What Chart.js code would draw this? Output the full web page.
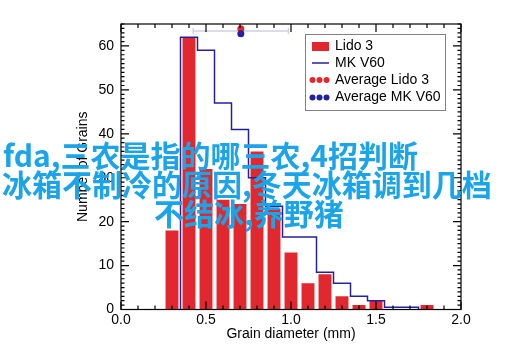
<!DOCTYPE html>
<html><head><meta charset="utf-8">
<script src="https://cdn.jsdelivr.net/npm/chart.js@4.4.1/dist/chart.umd.min.js"></script>
<style>
html,body{margin:0;padding:0;background:#fff;}
#wrap{position:relative;width:515px;height:359px;overflow:hidden;background:#fff;}
#c{position:absolute;left:0;top:0;}
.ov{position:absolute;white-space:nowrap;font-family:"Noto Sans CJK SC","Noto Sans",sans-serif;font-size:30px;line-height:30px;color:rgb(28,164,232);font-weight:bold;}
</style></head><body>
<div id="wrap">
<canvas id="c" width="515" height="359"></canvas>
<div class="ov" style="left:3px;top:139px;">fda,三农是指的哪三农,4招判断</div>
<div class="ov" style="left:2px;top:168px;">冰箱不制冷的原因,冬天冰箱调到几档</div>
<div class="ov" style="left:154px;top:197px;">不结冰,养野猪</div>
</div>
<script>
// ---- data ----
const binCenters = [0.3,0.4,0.5,0.6,0.7,0.8,0.9,1.0,1.1,1.2,1.3,1.4,1.5,1.8];
const lidoCounts = [18,62,32,25,24,36,23,13,6,8,3,1,2,1];
const mkEdges = [0.35,0.45,0.55,0.65,0.75,0.85,0.95,1.05,1.15,1.25,1.35,1.45,1.55,1.65,1.75];
const mkCounts = [62,59,47,41,30,23.5,16.5,16.5,8.5,6,3,2,0.5,0.5];
const avgLido = [0.705, 63.9];
const avgMK = [0.705, 62.8];
const avgRange = [0.425, 0.985];
const avgRangeY = [63.4];
const xTickValues = [0,0.5,1.0,1.5,2.0];
const yTickValues = [0,10,20,30,40,50,60];
const legendLabels = ['Lido 3','MK V60','Average Lido 3','Average MK V60'];
const xTitle = 'Grain diameter (mm)';
const yTitle = 'Number of Grains';

const RED = '#e0282e', BLUE = '#22229c';
const FONT = 'Liberation Sans';

const stepPts = [{x: mkEdges[0], y: 0}];
mkCounts.forEach((v,i)=>stepPts.push({x: mkEdges[i], y: v}));
stepPts.push({x: mkEdges[mkEdges.length-1], y: 0});

const framePlugin = {
  id: 'frame',
  beforeDatasetsDraw(chart){
    const ctx = chart.ctx, xs = chart.scales.x, ys = chart.scales.y;
    const x1 = xs.getPixelForValue(avgRange[0]), x2 = xs.getPixelForValue(avgRange[1]);
    const y = ys.getPixelForValue(avgRangeY[0]);
    ctx.save();
    ctx.strokeStyle = '#cfcfe6'; ctx.lineWidth = 1.5;
    ctx.beginPath();
    ctx.moveTo(x1, y); ctx.lineTo(x2, y);
    ctx.moveTo(x1, y-3); ctx.lineTo(x1, y+3);
    ctx.moveTo(x2, y-3); ctx.lineTo(x2, y+3);
    ctx.stroke();
    ctx.restore();
  },
  afterDraw(chart){
    const ctx = chart.ctx, a = chart.chartArea, xs = chart.scales.x, ys = chart.scales.y;
    ctx.save();
    ctx.strokeStyle = '#000'; ctx.lineWidth = 1.2;
    ctx.strokeRect(a.left, a.top, a.right-a.left, a.bottom-a.top);
    ctx.beginPath();
    for (let k = 0; k <= 20; k++) {
      const v = k/10, px = xs.getPixelForValue(v);
      const len = (k % 5 === 0) ? 8 : 4;
      ctx.moveTo(px, a.bottom); ctx.lineTo(px, a.bottom - len);
      ctx.moveTo(px, a.top); ctx.lineTo(px, a.top + len);
    }
    for (let k = 0; k <= 65; k++) {
      const py = ys.getPixelForValue(k);
      const len = (k % 10 === 0) ? 8 : 3.5;
      ctx.moveTo(a.left, py); ctx.lineTo(a.left + len, py);
      ctx.moveTo(a.right, py); ctx.lineTo(a.right - len, py);
    }
    ctx.stroke();
    // legend
    const bx = 305.5, by = 34.5, bw = 140, bh = 76;
    ctx.fillStyle = '#fff'; ctx.fillRect(bx, by, bw, bh);
    ctx.strokeStyle = '#808080'; ctx.lineWidth = 1; ctx.strokeRect(bx, by, bw, bh);
    const rows = [46.5, 63, 80, 97.5];
    ctx.font = '14px "' + FONT + '"'; ctx.fillStyle = '#000'; ctx.textBaseline = 'middle'; ctx.textAlign = 'left';
    legendLabels.forEach((t,i)=>{ ctx.fillStyle = '#000'; ctx.fillText(t, 335, rows[i]); });
    ctx.fillStyle = RED; ctx.fillRect(312, rows[0]-4.5, 17, 9);
    ctx.strokeStyle = BLUE; ctx.lineWidth = 1.5;
    ctx.beginPath(); ctx.moveTo(312, rows[1]); ctx.lineTo(329, rows[1]); ctx.stroke();
    [[rows[2], RED],[rows[3], BLUE]].forEach(([ry,c])=>{
      ctx.fillStyle = c;
      [312.5, 319.5, 326.5].forEach(cx=>{ ctx.beginPath(); ctx.arc(cx, ry, 3, 0, Math.PI*2); ctx.fill(); });
    });
    ctx.restore();
  }
};

new Chart(document.getElementById('c'), {
  type: 'bar',
  data: {
    datasets: [
      { type:'scatter', data:[{x:avgMK[0], y:avgMK[1]}], backgroundColor:BLUE, borderWidth:0, pointRadius:3.5, order:1 },
      { type:'scatter', data:[{x:avgLido[0], y:avgLido[1]}], backgroundColor:RED, borderWidth:0, pointRadius:3.5, order:2 },
      { type:'line', data: stepPts, stepped:'before', borderColor:BLUE, borderWidth:1.5, pointRadius:0, fill:false, order:3 },
      { type:'bar', data: binCenters.map((x,i)=>({x:x, y:lidoCounts[i]})), backgroundColor:RED, borderWidth:0,
        barPercentage:0.76, categoryPercentage:1, order:4 }
    ]
  },
  options: {
    responsive:false, animation:false, devicePixelRatio:1,
    layout:{ padding:{ left:70, right:54, top:24, bottom:10 } },
    plugins:{ legend:{display:false}, tooltip:{enabled:false} },
    scales:{
      x:{ type:'linear', min:0, max:2, offset:false,
          grid:{display:false, drawTicks:false, offset:false}, border:{display:false},
          afterBuildTicks: s => { s.ticks = xTickValues.map(v=>({value:v})); },
          afterFit: s => { s.height = 359 - 309.5 - 10; },
          ticks:{ color:'#000', font:{family:FONT, size:14}, padding:2, maxRotation:0, autoSkip:false,
                  callback: v => Number(v).toFixed(1) },
          title:{ display:true, text:xTitle, color:'#000', font:{family:FONT, size:14}, padding:{top:0, bottom:6} }
      },
      y:{ type:'linear', min:0, max:65,
          grid:{display:false, drawTicks:false}, border:{display:false},
          afterBuildTicks: s => { s.ticks = yTickValues.map(v=>({value:v})); },
          afterFit: s => { s.width = 51; },
          ticks:{ color:'#000', font:{family:FONT, size:14}, padding:7, autoSkip:false },
          title:{ display:true, text:yTitle, color:'#000', font:{family:FONT, size:14}, padding:{top:5, bottom:0} }
      }
    }
  },
  plugins:[framePlugin]
});
</script>
</body></html>
